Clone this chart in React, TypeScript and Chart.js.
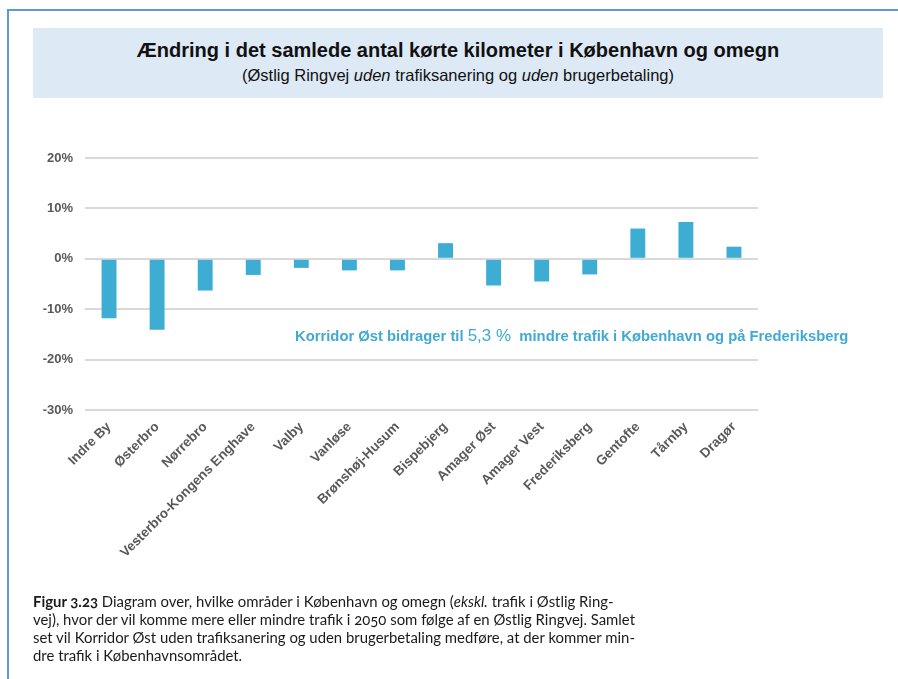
import React, { useEffect, useRef } from "react";
import { Chart, registerables } from "chart.js";

Chart.register(...registerables);

const categories = [
  "Indre By",
  "Østerbro",
  "Nørrebro",
  "Vesterbro-Kongens Enghave",
  "Valby",
  "Vanløse",
  "Brønshøj-Husum",
  "Bispebjerg",
  "Amager Øst",
  "Amager Vest",
  "Frederiksberg",
  "Gentofte",
  "Tårnby",
  "Dragør",
];

const changePct = [-11.8, -14.1, -6.3, -3.2, -1.8, -2.3, -2.3, 3.1, -5.3, -4.5, -3.1, 6.0, 7.3, 2.4];

const yTicks = [20, 10, 0, -10, -20, -30];

const annotationParts = [
  { text: "Korridor Øst bidrager til ", font: "bold 14.8px 'Liberation Sans', Arial, sans-serif" },
  { text: "5,3 %", font: "17px 'Liberation Sans', Arial, sans-serif" },
  { text: "  mindre trafik i København og på Frederiksberg", font: "bold 14.8px 'Liberation Sans', Arial, sans-serif" },
];

const BAR_COLOR = "#3eadd4";
const LABEL_COLOR = "#595959";

const annotationPlugin = {
  id: "annotationText",
  afterDraw(chart: any) {
    const { ctx, chartArea, scales } = chart;
    const y = scales.y.getPixelForValue(-15.4);
    let x = chartArea.left + 210;
    ctx.save();
    ctx.fillStyle = "#41aad4";
    ctx.textBaseline = "middle";
    ctx.textAlign = "left";
    for (const p of annotationParts) {
      ctx.font = p.font;
      ctx.fillText(p.text, x, y);
      x += ctx.measureText(p.text).width;
    }
    ctx.restore();
  },
};

export default function App() {
  const ref = useRef<HTMLCanvasElement | null>(null);

  useEffect(() => {
    if (!ref.current) return;
    const chart = new Chart(ref.current, {
      type: "bar",
      data: {
        labels: categories,
        datasets: [
          {
            data: changePct,
            backgroundColor: BAR_COLOR,
            borderWidth: 0,
            categoryPercentage: 1,
            barPercentage: 0.31,
          },
        ],
      },
      options: {
        animation: false,
        responsive: false,
        devicePixelRatio: 1,
        layout: { padding: { left: 0, right: 140, top: 158, bottom: 119 } },
        plugins: {
          legend: { display: false },
          tooltip: { enabled: false },
          title: { display: false },
        },
        scales: {
          x: {
            grid: { display: false },
            border: { display: false },
            afterFit: (s: any) => {
              s.height = 150;
            },
            ticks: {
              autoSkip: false,
              maxRotation: 45,
              minRotation: 45,
              padding: 1,
              color: LABEL_COLOR,
              font: { family: "'Liberation Sans', Arial, sans-serif", size: 13.5, weight: "bold" },
            },
          },
          y: {
            min: yTicks[yTicks.length - 1],
            max: yTicks[0],
            afterFit: (s: any) => {
              s.width = 85;
            },
            afterBuildTicks: (s: any) => {
              s.ticks = yTicks.map((v) => ({ value: v }));
            },
            border: { display: false },
            grid: { color: "#d9d9d9", lineWidth: 2, drawTicks: false },
            ticks: {
              padding: 12,
              color: LABEL_COLOR,
              font: { family: "'Liberation Sans', Arial, sans-serif", size: 13, weight: "bold" },
              callback: (v: any) => `${v}%`,
            },
          },
        },
      },
      plugins: [annotationPlugin],
    });
    return () => chart.destroy();
  }, []);

  return (
    <div
      style={{
        position: "absolute",
        left: 0,
        top: 0,
        width: 898,
        height: 679,
        background: "#fff",
        overflow: "hidden",
      }}
    >
      <div
        style={{
          position: "absolute",
          left: 7,
          top: 9,
          width: 900,
          height: 700,
          borderTop: "2px solid #5b9bd5",
          borderLeft: "2px solid #5b9bd5",
        }}
      />
      <div
        style={{
          position: "absolute",
          left: 33,
          top: 28,
          width: 850,
          height: 70,
          background: "#dde9f5",
          fontFamily: "'Liberation Sans', Arial, sans-serif",
          textAlign: "center",
          color: "#111",
        }}
      >
        <div style={{ position: "absolute", left: 0, right: 0, top: 10, fontSize: 20, lineHeight: "24px", fontWeight: "bold", whiteSpace: "nowrap" }}>
          Ændring i det samlede antal kørte kilometer i København og omegn
        </div>
        <div style={{ position: "absolute", left: 0, right: 0, top: 37, fontSize: 16.5, lineHeight: "20px", whiteSpace: "nowrap" }}>
          (Østlig Ringvej <i>uden</i> trafiksanering og <i>uden</i> brugerbetaling)
        </div>
      </div>
      <canvas ref={ref} width={898} height={679} style={{ position: "absolute", left: 0, top: 0, width: 898, height: 679 }} />
      <div
        style={{
          position: "absolute",
          left: 33,
          top: 592,
          fontFamily: "Lato, 'Open Sans', sans-serif",
          fontSize: 14.9,
          lineHeight: "18px",
          color: "#1a1a1a",
          whiteSpace: "nowrap",
          fontVariantNumeric: "oldstyle-nums",
        }}
      >
        <b>Figur 3.23</b> Diagram over, hvilke områder i København og omegn (<i>ekskl.</i> trafik i Østlig Ring-
        <br />
        vej), hvor der vil komme mere eller mindre trafik i 2050 som følge af en Østlig Ringvej. Samlet
        <br />
        set vil Korridor Øst uden trafiksanering og uden brugerbetaling medføre, at der kommer min-
        <br />
        dre trafik i Københavnsområdet.
      </div>
    </div>
  );
}
